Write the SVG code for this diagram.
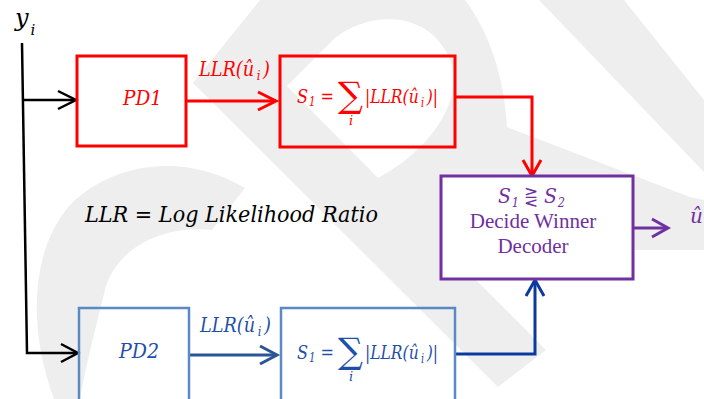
<svg xmlns="http://www.w3.org/2000/svg" width="704" height="399" viewBox="0 0 704 399">
<style>
.m{font-family:"DejaVu Serif","Liberation Serif",serif;font-style:italic}
.u{font-family:"DejaVu Serif","Liberation Serif",serif;font-style:normal}
.t{font-family:"Liberation Serif","Times New Roman",serif}
.red{fill:#ff0000}
.blu{fill:#1f4fa8}
.pur{fill:#7030a0}
.blk{fill:#000000}
.box{fill:none}
.wbox{fill:#ffffff}
.wm{fill:#eeeeee;stroke:none}
.ln{fill:none;stroke-linejoin:miter;stroke-linecap:butt}
</style>
<rect width="704" height="399" fill="#ffffff"/>
<g id="watermark">
<path class="wm" d="M54,399 C28,330 30,250 70,205 C110,165 180,150 245,188 L212,230 C160,225 115,250 105,290 C95,330 85,370 80,399 Z"/>
<path class="wm" d="M260,0 L465,0 C495,40 505,90 507,127 L690,197 L704,200 L704,250 L633,250 L633,279 L475,279 L546,350 L498,387 L193,83 Z"/>
<path d="M287,86 L335,38 C370,10 430,10 450,60 C465,100 430,150 378,178 Z" fill="#ffffff"/>
<path class="wm" d="M539,0 L624,0 L704,100 L704,172 Z"/>
</g>
<g id="connectors" class="ln">
<polyline points="22,43 27,353 77,353" stroke="#000" stroke-width="2.5"/>
<line x1="22" y1="100" x2="76" y2="100" stroke="#000" stroke-width="2.5"/>
<polyline points="58,91 76,100 58,109" stroke="#000" stroke-width="2.5"/>
<polyline points="61,344 78,353 61,362" stroke="#000" stroke-width="2.5"/>
<line x1="187" y1="101" x2="275" y2="101" stroke="#ff0000" stroke-width="3"/>
<polyline points="258,92 276,101 258,110" stroke="#ff0000" stroke-width="3"/>
<polyline points="455,97 532,97 532,175" stroke="#ff0000" stroke-width="3"/>
<polyline points="523,160 532,176 541,160" stroke="#ff0000" stroke-width="3"/>
<line x1="190" y1="355" x2="276" y2="355" stroke="#2a5596" stroke-width="3"/>
<polyline points="260,346 277,355 260,364" stroke="#2a5596" stroke-width="3"/>
<polyline points="456,354 535,354 535,281" stroke="#0a3a9e" stroke-width="3"/>
<polyline points="526,296 535,280 544,296" stroke="#0a3a9e" stroke-width="3"/>
<line x1="633" y1="228" x2="667" y2="228" stroke="#7030a0" stroke-width="3"/>
<polyline points="652,219 668,228 652,237" stroke="#7030a0" stroke-width="3"/>
</g>
<g id="input">
<text class="m blk" x="15" y="26" font-size="24">y<tspan font-size="15" dx="2" dy="9">i</tspan></text>
</g>
<g id="pd1">
<rect class="box" x="77" y="56" width="109" height="90" stroke="#ff0000" stroke-width="3"/>
<text class="m red" x="123" y="105" font-size="20" textLength="39" lengthAdjust="spacingAndGlyphs">PD1</text>
</g>
<g id="label-llr1">
<text class="m red" x="199" y="76" font-size="20" textLength="71" lengthAdjust="spacingAndGlyphs">LLR(û<tspan font-size="13" dx="3" dy="4">i</tspan><tspan dx="3" dy="-4">)</tspan></text>
</g>
<g id="sum1">
<rect class="box" x="280" y="56" width="175" height="91" stroke="#ff0000" stroke-width="3"/>
<text class="m red" x="297" y="103" font-size="19" textLength="37" lengthAdjust="spacingAndGlyphs">S<tspan font-size="12" dx="1" dy="3">1</tspan><tspan class="u" dy="-3"> =</tspan></text>
<text class="u red" x="338" y="107" font-size="35">∑<tspan class="m" x="349" y="125" font-size="13">i</tspan></text>
<text class="m red" x="365" y="103" font-size="19" textLength="73" lengthAdjust="spacingAndGlyphs">|LLR(û<tspan font-size="12" dx="3" dy="4">i</tspan><tspan dx="3" dy="-4">)|</tspan></text>
</g>
<g id="decide">
<rect class="wbox" x="441" y="176" width="192" height="103" stroke="#7030a0" stroke-width="3"/>
<text class="m pur" x="498" y="203" font-size="20" textLength="67" lengthAdjust="spacingAndGlyphs">S<tspan font-size="12" dx="1" dy="4">1</tspan><tspan class="u" dy="-4" font-size="18"> ⋛ </tspan>S<tspan font-size="12" dx="1" dy="4">2</tspan></text>
<text class="t pur" x="533" y="228" font-size="21" text-anchor="middle">Decide Winner</text>
<text class="t pur" x="533" y="253" font-size="21" text-anchor="middle">Decoder</text>
</g>
<g id="output">
<text class="m pur" x="690" y="223" font-size="20">û<tspan font-size="12" dx="1" dy="4">i</tspan></text>
</g>
<g id="legend">
<text class="m blk" x="85" y="222" font-size="22" textLength="293" lengthAdjust="spacingAndGlyphs">LLR = Log Likelihood Ratio</text>
</g>
<g id="pd2">
<rect class="box" x="79" y="308" width="110" height="100" stroke="#5b89c4" stroke-width="2.5"/>
<text class="m blu" x="119" y="358" font-size="20" textLength="40" lengthAdjust="spacingAndGlyphs">PD2</text>
</g>
<g id="label-llr2">
<text class="m blu" x="200" y="332" font-size="20" textLength="71" lengthAdjust="spacingAndGlyphs">LLR(û<tspan font-size="13" dx="3" dy="4">i</tspan><tspan dx="3" dy="-4">)</tspan></text>
</g>
<g id="sum2">
<rect class="box" x="281" y="308" width="174" height="100" stroke="#5b89c4" stroke-width="2.5"/>
<text class="m blu" x="297" y="359" font-size="19" textLength="37" lengthAdjust="spacingAndGlyphs">S<tspan font-size="12" dx="1" dy="3">1</tspan><tspan class="u" dy="-3"> =</tspan></text>
<text class="u blu" x="338" y="363" font-size="35">∑<tspan class="m" x="349" y="381" font-size="13">i</tspan></text>
<text class="m blu" x="365" y="359" font-size="19" textLength="73" lengthAdjust="spacingAndGlyphs">|LLR(û<tspan font-size="12" dx="3" dy="4">i</tspan><tspan dx="3" dy="-4">)|</tspan></text>
</g>
</svg>
